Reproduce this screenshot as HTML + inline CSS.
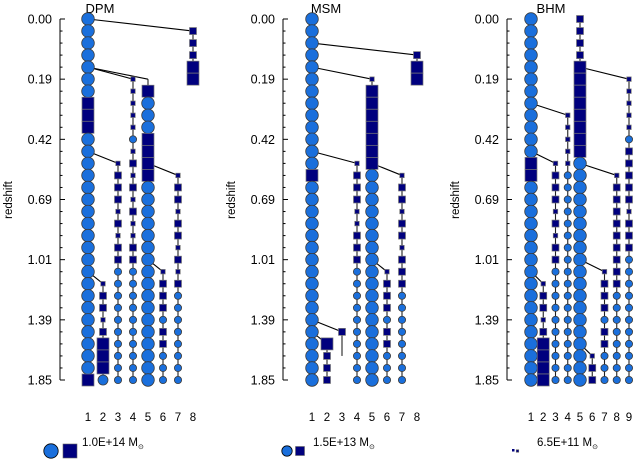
<!DOCTYPE html>
<html><head><meta charset="utf-8">
<style>
html,body{margin:0;padding:0;background:#fff;}
svg{display:block;font-family:"Liberation Sans",sans-serif;}
</style></head>
<body>
<svg id="chart" width="635" height="460" viewBox="0 0 635 460" xmlns="http://www.w3.org/2000/svg">
<g id="axes"></g><g id="lines"></g><g id="marks"></g><g id="legend"></g>
</svg>
<script>
// ---- data ----
const tickLabels = ["0.00","0.19","0.42","0.69","1.01","1.39","1.85"];
const panelNames = ["DPM","MSM","BHM"];
const columnCounts = [8,8,9];
// branch: column, first row, parent [column,row], marker codes per row
// C big circle, c medium circle, s small circle, Q big square, q medium square, p tiny square, n none
const dpmBranches = [
  {col:1,start:0,from:null,codes:"CCCCCCCQQQ"+"CCCCCCCCCCCCCCCCCCCC"+"Q"},
  {col:8,start:1,from:[1,0],codes:"qqqQQ"},
  {col:4,start:5,from:[1,4],codes:"pppppspqpqpqppqq"+"ssssssssss"},
  {col:5,start:5,from:[1,4],codes:"nQCCCQQQQ"+"CCCCCCCCCCCCCCCCC"},
  {col:3,start:12,from:[1,11],codes:"pqqqpqpqq"+"ssssssssss"},
  {col:7,start:13,from:[5,12],codes:"pqqpqqpqpq"+"ssssssss"},
  {col:6,start:21,from:[5,20],codes:"pqqqsqqsss"},
  {col:2,start:22,from:[1,21],codes:"pqqpqQQQc"}
];
const msmBranches = [
  {col:1,start:0,from:null,codes:"CCCCCCCCCCCCC"+"Q"+"CCCCCCCCCCCCCCCCC"},
  {col:8,start:3,from:[1,2],codes:"qQQ"},
  {col:5,start:5,from:[1,4],codes:"pQQQQQQQ"+"CCCCCCCCCCCCCCCCCC"},
  {col:4,start:12,from:[1,11],codes:"pqqqppqqq"+"ssssssssss"},
  {col:7,start:13,from:[5,12],codes:"pqqpqqpqqq"+"ssssssss"},
  {col:6,start:21,from:[5,20],codes:"pqqqsqqsss"},
  {col:3,start:26,from:[1,25],codes:"qnn"},
  {col:2,start:27,from:[1,26],codes:"Qqqq"}
];
const bhmBranches = [
  {col:1,start:0,from:null,codes:"CCCCCCCCCCCC"+"QQ"+"CCCCCCCCCCCCCCCCC"},
  {col:5,start:0,from:null,codes:"qqqqQQQQQQQQ"+"CCCCCCCCCCCCCCCCCCC"},
  {col:9,start:5,from:[5,4],codes:"pppppsqqqqqpqqq"+"sssssssssss"},
  {col:4,start:8,from:[1,7],codes:"ppppp"+"ssssssssssssssssss"},
  {col:3,start:12,from:[1,11],codes:"pqqqpqpqq"+"ssssssssss"},
  {col:8,start:13,from:[5,12],codes:"pqqqqqqqqq"+"ssssssss"},
  {col:7,start:21,from:[5,20],codes:"pqqqsqqsss"},
  {col:2,start:22,from:[1,21],codes:"pqqpqQQQQ"},
  {col:6,start:28,from:[5,27],codes:"pqq"}
];
const legendLabels = ["1.0E+14 M","1.5E+13 M","6.5E+11 M"];

// ---- layout ----
const NS="http://www.w3.org/2000/svg";
const panels=[
  {axisX:60,col1:88,step:15,title:"DPM",titleX:100,rsX:12,branches:dpmBranches},
  {axisX:283,col1:312,step:15,title:"MSM",titleX:326,rsX:235,branches:msmBranches},
  {axisX:507,col1:531,step:12.25,title:"BHM",titleX:551,rsX:459,branches:bhmBranches}
];
const Y0=19, Y1=380, NROWS=30;
function yRow(r){return Y0+r*(Y1-Y0)/NROWS;}
function mk(tag,attrs,parent){const e=document.createElementNS(NS,tag);for(const k in attrs)e.setAttribute(k,attrs[k]);parent.appendChild(e);return e;}
const gA=document.getElementById('axes'),gL=document.getElementById('lines'),gM=document.getElementById('marks'),gG=document.getElementById('legend');
const CIRC="#1a6fdc", SQ="#00007e", STROKE="#3a3a3a";
const rad={C:6.3,c:5,s:3.6};
const side={Q:12,q:7,p:4.5};

panels.forEach((p,pi)=>{
  const xCol=c=>p.col1+(c-1)*p.step;
  const ax=mk('line',{x1:p.axisX,y1:Y0,x2:p.axisX,y2:Y1,stroke:"#000","stroke-width":1},gA);
  
  
  for(let r=0;r<=NROWS;r++){
    const major=r%5===0;
    const t=mk('line',{x1:p.axisX,y1:yRow(r),x2:p.axisX+(major?5:2.5),y2:yRow(r),stroke:"#000","stroke-width":1},gA);
    
    
  }
  tickLabels.forEach((lab,i)=>{
    const t=mk('text',{x:p.axisX-8,y:yRow(i*5)+4.5,"text-anchor":"end","font-size":12.5,fill:"#000"},gA);
    t.textContent=lab;
    
    
  });
  const rs=mk('text',{x:p.rsX,y:200,"text-anchor":"middle","font-size":11.5,transform:`rotate(-90 ${p.rsX} 200)`,fill:"#000"},gA);
  rs.textContent="redshift";
  
  
  const ti=mk('text',{x:p.titleX,y:13,"text-anchor":"middle","font-size":13,fill:"#000"},gA);
  ti.textContent=p.title;
  
  
  for(let c=1;c<=columnCounts[pi];c++){
    const cl=mk('text',{x:xCol(c),y:421,"text-anchor":"middle","font-size":11.5,fill:"#000"},gA);
    cl.textContent=String(c);
    
    
  }
  p.branches.forEach(b=>{
    const x=xCol(b.col), yS=yRow(b.start), yE=yRow(b.start+b.codes.length-1);
    if(b.from){
      const ml=mk('line',{x1:xCol(b.from[0]),y1:yRow(b.from[1]),x2:x,y2:yS,stroke:"#000","stroke-width":1.1},gL);
      
      
    }
    if(yE>yS){
      const vl=mk('line',{x1:x,y1:yS,x2:x,y2:yE,stroke:"#222","stroke-width":1.1},gL);
      
      
    }
    [...b.codes].forEach((code,i)=>{
      const y=yRow(b.start+i);
      let e=null;
      if(rad[code]){
        e=mk('circle',{cx:x,cy:y,r:rad[code],fill:CIRC,stroke:STROKE,"stroke-width":0.8},gM);
      }else if(side[code]){
        const s=side[code];
        e=mk('rect',{x:x-s/2,y:y-s/2,width:s,height:s,fill:SQ,stroke:"#777","stroke-width":0.7},gM);
      }
      if(e){
        
        
      }
    });
  });
});

function legItem(cx,r,sqx,sq,tx,label){
  if(r){const c=mk('circle',{cx:cx,cy:451,r:r,fill:CIRC,stroke:"#000","stroke-width":0.8},gG);
    
    }
  const s=mk('rect',{x:sqx-sq/2,y:451-sq/2,width:sq,height:sq,fill:SQ,stroke:"#666","stroke-width":0.6},gG);
  
  
  const t=mk('text',{x:tx,y:446,"font-size":11.5,fill:"#000"},gG);
  t.textContent=label;
  const sub=mk('tspan',{dy:3,"font-size":7},t);
  sub.textContent="⊙";
  
  
}
legItem(51,7.2,70,14,82,legendLabels[0]);
legItem(287,5.2,300,9,313,legendLabels[1]);
const d=mk('rect',{x:512,y:449,width:2.5,height:2.5,fill:SQ},gG);


legItem(0,0,517.5,2.5,537,legendLabels[2]);
</script>
</body></html>
